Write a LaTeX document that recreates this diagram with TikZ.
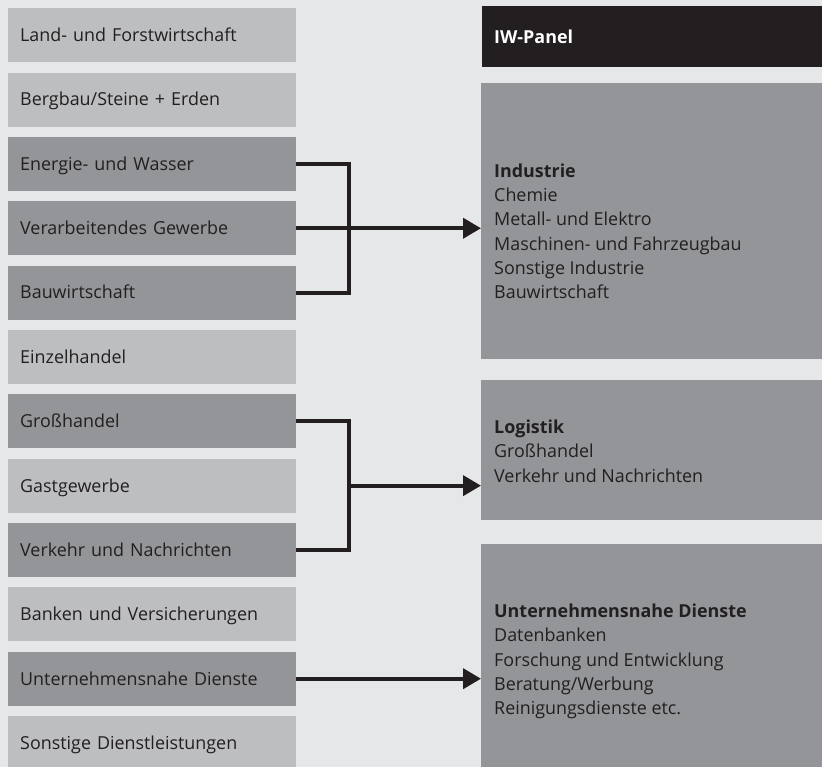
\documentclass[tikz,border=0pt]{standalone}
\usepackage{fontspec}
\setmainfont{Open Sans}
\usetikzlibrary{arrows.meta,calc}
\definecolor{bgc}{HTML}{E6E7E8}
\definecolor{lightc}{HTML}{BCBEC0}
\definecolor{darkc}{HTML}{939598}
\definecolor{ink}{HTML}{231F20}
\begin{document}
\begin{tikzpicture}[x=1pt,y=-1pt,
  lbox/.style={rectangle, anchor=north west, inner xsep=12pt, inner ysep=0pt,
    text width=264pt, minimum height=54pt, align=left,
    text height=12.8pt, text depth=0pt,
    font=\fontsize{17.9}{24.1}\selectfont, text=ink},
  lightbox/.style={lbox, fill=lightc},
  darkbox/.style={lbox, fill=darkc},
  rbox/.style={rectangle, anchor=north west, inner sep=0pt, minimum width=345pt, fill=darkc},
  rtext/.style={anchor=north west, inner sep=0pt, align=left,
    font=\fontsize{17.9}{24.1}\selectfont, text=ink},
  conn/.style={line width=4pt, draw=ink},
  arr/.style={conn, -{Triangle[length=18pt,width=20pt]}}]
\clip (0,0) rectangle (822,767);
\fill[bgc] (0,0) rectangle (822,767);
% left column
\node[lightbox] (r1) at (8,8) {Land- und Forstwirtschaft};
\node[lightbox] (r2) at (8,72.35) {Bergbau/Steine + Erden};
\node[darkbox] (r3) at (8,136.7) {Energie- und Wasser};
\node[darkbox] (r4) at (8,201.05) {Verarbeitendes Gewerbe};
\node[darkbox] (r5) at (8,265.4) {Bauwirtschaft};
\node[lightbox] (r6) at (8,329.75) {Einzelhandel};
\node[darkbox] (r7) at (8,394.1) {Großhandel};
\node[lightbox] (r8) at (8,458.45) {Gastgewerbe};
\node[darkbox] (r9) at (8,522.8) {Verkehr und Nachrichten};
\node[lightbox] (r10) at (8,587.15) {Banken und Versicherungen};
\node[darkbox] (r11) at (8,651.5) {Unternehmensnahe Dienste};
\node[lightbox] (r12) at (8,715.85) {Sonstige Dienstleistungen};
% right column
\node[lbox, fill=ink, text=white, minimum height=60.5pt, text width=321pt,
  font=\fontsize{17.9}{24.1}\selectfont\bfseries] (iw) at (482,6.2) {IW-Panel};
\node[rbox, minimum height=276pt] (ind) at (481,83) {};
\node[rbox, minimum height=140pt] (log) at (481,380) {};
\node[rbox, minimum height=230pt] (ud) at (481,544) {};
\node[rtext] (indt) at (494,164) {\textbf{Industrie}\\Chemie\\Metall- und Elektro\\Maschinen- und Fahrzeugbau\\Sonstige Industrie\\Bauwirtschaft};
\node[rtext] (logt) at (494,420) {\textbf{Logistik}\\Großhandel\\Verkehr und Nachrichten};
\node[rtext] (udt) at (494,604) {\textbf{Unternehmensnahe Dienste}\\Datenbanken\\Forschung und Entwicklung\\Beratung/Werbung\\Reinigungsdienste etc.};
% connectors
\draw[conn] (r3.east) -- ++(53,0) coordinate (j1) |- (r5.east);
\draw[arr] (r4.east) -- (r4.east -| ind.west);
\draw[conn] (r7.east) -- ++(53,0) coordinate (j2) |- (r9.east);
\coordinate (m2) at ($(j2)!0.5!(j2 |- r9.east)$);
\draw[arr] (m2) -- (m2 -| log.west);
\draw[arr] (r11.east) -- (r11.east -| ud.west);
\end{tikzpicture}
\end{document}
